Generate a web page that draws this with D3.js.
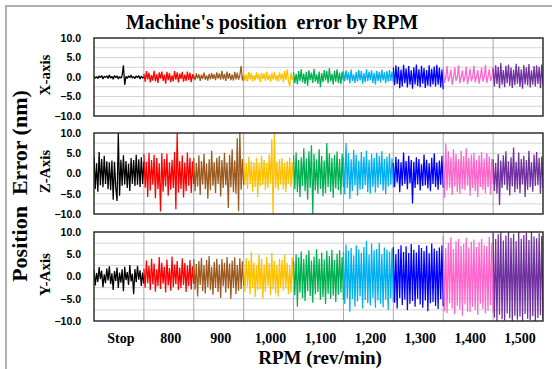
<!DOCTYPE html>
<html>
<head>
<meta charset="utf-8">
<script src="https://cdn.jsdelivr.net/npm/d3@7"></script>
<style>
  body { margin: 0; background: #fff; }
  svg { display: block; }
</style>
</head>
<body>
<svg id="chart" width="552" height="369"></svg>
<script>
// categories on the x axis (one block of samples per RPM step)
const categories = ["Stop", "800", "900", "1,000", "1,100", "1,200", "1,300", "1,400", "1,500"];
const segColors = ["#000000", "#ff0000", "#9c5a1e", "#ffc000", "#00b050", "#00b0f0", "#0000ff", "#ff66cc", "#7030a0"];
const yTicks = [-10, -5, 0, 5, 10];

// X-axis error (nm), one list per category
const xErr = [
  [0.2,-0.3,0.1,-0.4,0.3,-0.2,0.4,-0.5,0.2,-0.1,0.3,-0.4,0.5,-0.3,0.2,-0.6,0.4,-0.2,0.3,-0.5,0.1,-0.3,0.4,3.0,-2.0,0.2,-0.4,0.3,-0.2,0.5,-0.3,0.1,-0.4,0.3,-0.2,0.4,-0.5,0.2,-0.3,0.1],
  [0.8,-1.2,1.5,-0.6,1.1,-1.4,0.5,-0.9,1.6,-1.1,0.7,-1.5,1.2,-0.4,1.4,-1.0,0.6,-1.7,1.3,-0.8,1.0,-1.3,0.4,-1.1,1.5,-0.7,1.2,-1.4,0.9,-0.5,1.3,-1.2,0.6,-1.0,1.4,-0.8,1.1,-1.3,0.7,-0.5],
  [0.5,-0.8,0.9,-0.4,0.7,-1.0,0.6,-0.5,1.1,-0.7,0.4,-0.9,0.8,-0.6,1.0,-0.5,0.7,-0.8,1.2,-0.4,0.9,-0.7,1.6,-0.6,0.8,-1.0,1.4,-0.5,1.0,-0.8,0.6,-0.9,1.3,-0.6,1.1,-0.7,0.5,2.8,-0.9,0.4],
  [0.9,-1.0,0.6,-1.2,1.3,-0.7,1.0,-1.1,0.5,-0.9,1.2,-0.6,0.8,-1.3,1.1,-0.5,0.9,-1.0,1.4,-0.8,0.6,-1.2,1.0,-0.7,1.3,-0.9,0.5,-1.1,1.2,-0.6,0.9,-1.4,1.6,-0.8,2.0,-1.2,-2.4,1.1,-0.7,0.5],
  [1.2,-1.6,0.8,-1.9,1.5,-1.0,2.0,-1.4,0.9,-1.8,1.3,-2.2,1.7,-0.8,1.1,-1.5,2.1,-1.2,0.7,-1.7,1.4,-2.6,1.0,-1.3,1.8,-0.9,1.5,-1.6,2.3,-1.1,0.8,-1.9,1.6,-1.2,2.0,-1.5,1.1,-1.8,1.4,-0.9],
  [1.4,-1.1,1.7,-0.8,1.2,-1.6,1.9,-1.0,0.7,-1.5,1.3,-1.2,1.8,-0.9,1.5,-1.7,1.0,-1.3,2.0,-1.1,1.4,-0.8,1.7,-1.5,1.1,-1.9,1.6,-1.0,1.3,-1.4,1.9,-0.9,1.2,-1.6,1.5,-1.2,1.8,-1.0,1.4,-1.3],
  [2.4,-2.1,3.0,-1.8,2.6,-2.9,1.9,-2.4,3.1,-1.6,2.2,-2.7,2.8,-2.0,1.7,-3.0,2.5,-1.9,3.2,-2.3,2.0,-2.6,2.9,-1.7,2.3,-2.8,1.8,-2.2,3.0,-2.5,2.1,-1.9,2.7,-2.4,3.1,-2.0,2.4,-2.7,1.9,-3.1],
  [2.2,-1.5,0.0,2.8,-1.2,0.0,1.9,-2.0,0.0,2.5,-1.0,0.0,3.0,-1.6,0.0,1.7,-1.3,0.0,2.6,-1.8,0.0,2.1,-1.1,0.0,2.9,-1.4,0.0,1.8,-1.7,0.0,2.4,-1.2,0.0,3.1,-1.5,0.0,2.0,-1.0,0.0,2.7],
  [2.1,-2.4,3.0,-1.8,2.6,-2.9,3.6,-2.0,1.8,-2.6,2.9,-1.6,3.2,-2.3,2.4,-2.8,1.9,-2.1,3.4,-1.7,2.7,-2.5,2.0,-3.0,3.1,-1.9,2.5,-2.2,3.3,-2.7,1.7,-2.0,2.8,-2.4,3.0,-1.8,2.6,-2.9,3.2,-2.2]
];

// Z-axis error (nm)
const zErr = [
  [4.2,-3.8,2.5,-4.5,5.3,-2.9,3.6,-3.4,4.4,-2.6,3.0,-3.9,2.8,-4.1,3.2,-6.5,2.9,-3.5,-6.8,10.0,-5.5,3.4,-3.0,4.5,-2.7,3.1,-3.6,2.4,-4.3,3.8,-2.5,3.3,-3.1,4.6,-2.8,3.5,-3.3,4.0,-2.6,3.0],
  [4.8,-3.5,2.9,-5.8,5.1,-4.2,3.3,-2.8,4.6,-6.1,3.8,-3.9,2.5,-9.4,5.0,-4.5,3.6,-3.2,4.9,-5.5,2.8,-4.0,3.4,-3.6,5.3,-8.8,10.0,-4.7,3.1,-3.8,4.5,-5.9,2.7,-4.4,5.2,-3.0,3.9,-4.8,3.0,-2.6],
  [3.8,-4.4,2.6,-3.2,4.5,-5.3,3.1,-2.7,4.9,-3.9,2.4,-6.2,3.5,-4.1,5.6,-3.0,2.8,-4.8,3.9,-2.5,4.3,-5.7,3.3,-3.6,5.1,-2.9,2.7,-8.5,4.6,-3.4,6.0,-4.6,3.2,-5.0,8.7,-9.3,10.0,-4.0,3.6,-2.8],
  [3.6,-2.9,2.4,-3.8,4.1,-2.6,3.0,-4.5,2.7,-3.3,3.9,-5.8,2.5,-3.1,4.4,-2.8,3.3,-4.0,2.6,-3.6,4.7,-2.4,8.5,-10.0,10.0,-3.5,2.9,-4.2,3.5,-2.7,3.8,-3.9,2.6,-4.6,3.1,-2.5,4.0,-3.4,2.8,-3.0],
  [4.5,-3.9,5.2,-4.6,3.3,-5.8,4.0,-3.1,6.2,-4.4,3.7,-6.5,5.5,-3.6,7.0,-10.0,4.8,-4.2,3.5,-5.0,6.0,-3.8,4.3,-5.6,3.2,-4.9,7.5,-3.4,5.0,-4.5,3.8,-6.0,4.6,-3.7,5.4,-4.1,3.6,-5.2,4.9,-3.3],
  [4.0,-5.2,7.5,-3.6,5.0,-6.3,3.5,-4.4,5.8,-3.0,4.6,-5.5,3.2,-4.0,5.3,-3.8,4.2,-2.9,5.6,-4.6,3.4,-5.0,4.8,-3.3,3.9,-4.7,5.1,-3.5,4.4,-2.7,5.5,-4.2,3.6,-5.1,4.1,-3.2,4.9,-2.8,3.7,-3.5],
  [2.6,-3.4,4.1,-2.2,3.5,-4.6,2.8,-3.0,5.2,-2.5,3.1,-3.9,4.4,-2.4,3.3,-7.4,2.9,-3.6,4.0,-2.7,3.6,-4.2,2.3,-3.1,4.7,-2.9,3.4,-3.7,2.5,-4.4,3.9,-2.6,5.0,-3.3,2.7,-4.0,3.2,-2.8,4.3,-3.5],
  [4.6,-6.0,7.4,-4.2,5.5,-3.5,4.0,-5.3,6.0,-3.2,4.8,-4.6,3.5,-5.0,5.6,-3.8,4.3,-4.1,6.2,-3.0,3.9,-5.5,4.7,-3.6,5.1,-4.4,3.4,-5.8,4.5,-3.3,5.3,-4.0,3.7,-4.9,5.0,-3.4,4.2,-5.2,3.6,-2.5],
  [3.5,-4.3,2.6,-5.0,4.8,-7.8,3.2,-3.6,4.5,-2.8,5.5,-4.1,3.0,-5.4,4.0,-3.2,6.4,-4.6,2.9,-3.8,5.2,-4.9,3.6,-2.7,4.4,-5.8,3.3,-4.0,5.6,-3.4,2.8,-4.5,4.7,-3.1,5.3,-2.9,3.9,-5.0,4.2,-3.6]
];

// Y-axis error (nm)
const yErr = [
  [1.5,-2.0,0.8,-1.2,2.1,-0.6,1.3,-2.4,0.5,-1.5,1.8,-0.9,2.3,-1.7,0.7,-3.0,1.2,-1.0,2.0,-2.6,0.9,-1.4,1.6,-3.3,2.2,-0.8,1.0,-1.9,2.6,-1.1,0.6,-4.0,1.7,-1.3,2.4,-0.7,1.4,-2.1,0.9,-1.6],
  [1.8,-2.5,3.6,-1.5,2.4,-3.0,4.0,-1.8,2.9,-3.4,1.6,-2.2,4.4,-2.8,3.1,-1.6,2.2,-3.6,3.8,-2.0,1.9,-3.2,4.5,-2.4,2.7,-1.8,3.5,-3.0,2.0,-2.6,4.1,-1.9,3.0,-3.5,2.5,-2.1,3.7,-2.9,2.3,-1.7],
  [3.9,-2.9,2.8,-4.5,3.5,-1.9,4.2,-3.3,2.5,-3.8,3.7,-2.4,4.6,-3.0,2.2,-4.1,3.3,-2.6,4.0,-3.5,2.7,-4.8,3.9,-2.2,3.1,-3.6,4.4,-2.7,2.9,-5.0,3.6,-2.5,4.3,-3.9,2.6,-3.2,4.1,-2.8,3.4,-2.0],
  [2.8,-3.5,4.2,-2.3,3.6,-4.0,5.5,-2.6,3.2,-4.6,2.5,-3.1,4.8,-2.8,3.9,-5.0,2.7,-3.4,4.4,-2.2,3.0,-4.2,5.3,-2.9,3.5,-3.8,2.6,-4.5,4.0,-2.5,3.7,-3.2,4.9,-2.7,3.1,-4.0,2.4,-3.6,4.3,-2.1],
  [3.5,-4.2,5.0,-6.8,4.3,-3.6,5.6,-4.8,3.9,-5.5,4.8,-3.3,5.9,-4.4,3.6,-5.9,4.5,-4.0,6.1,-3.5,4.0,-5.2,5.4,-4.6,3.8,-6.2,5.8,-3.9,4.6,-5.0,6.0,-4.3,3.7,-5.7,5.1,-4.1,5.9,-3.6,4.4,-5.3],
  [5.5,-6.2,7.2,-4.9,5.8,-7.9,6.4,-5.1,4.7,-6.8,7.0,-5.6,6.1,-4.5,5.3,-7.2,6.6,-5.3,8.0,-6.0,4.9,-6.5,7.4,-4.8,5.9,-7.0,6.2,-5.4,7.6,-6.1,5.0,-6.9,6.5,-5.2,6.0,-7.5,5.6,-4.9,6.3,-5.8],
  [6.6,-5.9,5.0,-7.2,6.2,-4.8,7.0,-6.4,5.5,-5.2,6.8,-7.6,5.3,-6.1,7.3,-5.5,6.0,-6.8,5.4,-5.0,7.1,-6.3,6.4,-7.0,5.7,-5.4,6.9,-7.8,5.2,-6.0,7.4,-5.7,6.3,-6.6,5.8,-7.3,6.5,-5.1,7.0,-6.7],
  [9.0,-7.8,6.4,-8.2,7.6,-6.0,8.8,-7.2,6.2,-8.5,7.9,-6.6,8.4,-7.4,6.9,-8.8,7.3,-6.3,8.7,-7.9,6.5,-8.0,7.8,-6.8,8.3,-7.5,6.6,-8.6,7.7,-6.1,8.5,-7.3,7.0,-8.3,6.8,-7.7,8.9,-6.4,7.5,-8.1],
  [9.8,-9.2,8.4,-10.0,9.5,-8.6,10.0,-9.6,8.1,-9.9,9.2,-8.3,10.0,-9.4,8.7,-10.0,9.6,-8.8,7.9,-9.7,10.0,-9.0,8.5,-10.0,9.3,-8.4,9.9,-9.5,8.2,-9.8,10.0,-8.9,9.0,-10.0,8.6,-9.3,9.7,-8.7,9.1,-9.6]
];

const svg = d3.select("#chart");
const left = 94, right = 543;
const panels = [
  { name: "X-axis", data: xErr, top: 38, bottom: 116 },
  { name: "Z-Axis", data: zErr, top: 133, bottom: 214 },
  { name: "Y-Axis", data: yErr, top: 232, bottom: 321 }
];

// outer frame (only top & left edge visible in the source)
svg.append("rect")
  .attr("x", 6).attr("y", 6).attr("width", 560).attr("height", 380)
  .attr("fill", "none").attr("stroke", "#b0b0b0").attr("stroke-width", 2);

const x = d3.scaleLinear().domain([0, categories.length]).range([left, right]);
const xBand = d3.scaleBand().domain(categories).range([left, right]);
const serif = "'Liberation Serif', 'Times New Roman', serif";
const sans = "'Liberation Sans', Arial, sans-serif";

panels.forEach((p, pi) => {
  const y = d3.scaleLinear().domain([-10, 10]).range([p.bottom, p.top]);
  const g = svg.append("g");

  // horizontal grid every 2.5
  g.selectAll("line.hg")
    .data(d3.range(-7.5, 10, 2.5))
    .enter().append("line")
    .attr("x1", left).attr("x2", right)
    .attr("y1", d => y(d)).attr("y2", d => y(d))
    .attr("stroke", "#d4d4d4").attr("stroke-width", 1);

  // vertical separators between rpm blocks
  g.selectAll("line.vg")
    .data(d3.range(1, categories.length))
    .enter().append("line")
    .attr("x1", d => x(d)).attr("x2", d => x(d))
    .attr("y1", p.top).attr("y2", p.bottom)
    .attr("stroke", "#a8a8a8").attr("stroke-width", 1);

  const clipId = "clip" + pi;
  svg.append("clipPath").attr("id", clipId)
    .append("rect").attr("x", left).attr("y", p.top - 0.5)
    .attr("width", right - left).attr("height", p.bottom - p.top + 1);

  const line = d3.line().x(d => x(d[0])).y(d => y(d[1]));
  const lines = g.append("g").attr("clip-path", `url(#${clipId})`);
  p.data.forEach((vals, si) => {
    const n = vals.length;
    const pts = vals.map((v, j) => [si + j / (n - 1), v]);
    lines.append("path")
      .attr("d", line(pts))
      .attr("fill", "none")
      .attr("stroke", segColors[si])
      .attr("stroke-width", 1.25)
      .attr("stroke-linejoin", "bevel");
  });

  // plot frame
  g.append("rect")
    .attr("x", left).attr("y", p.top)
    .attr("width", right - left).attr("height", p.bottom - p.top)
    .attr("fill", "none").attr("stroke", "#222").attr("stroke-width", 1.4);

  // y ticks
  const ya = g.append("g")
    .attr("transform", `translate(${left - 10},0)`)
    .call(d3.axisLeft(y).tickValues(yTicks).tickFormat(d3.format(".1f")).tickSize(0));
  ya.select(".domain").remove();
  ya.selectAll("text")
    .attr("font-family", sans).attr("font-weight", "bold")
    .attr("font-size", 10.5).attr("fill", "#000");

  // panel label
  svg.append("text")
    .attr("transform", `translate(50,${(p.top + p.bottom) / 2 - 2}) rotate(-90)`)
    .attr("text-anchor", "middle")
    .attr("font-family", serif).attr("font-weight", "bold")
    .attr("font-size", 15)
    .text(p.name);
});

// category labels below the last panel
const xa = svg.append("g")
  .attr("transform", `translate(2,${panels[2].bottom + 6})`)
  .call(d3.axisBottom(xBand).tickSize(0));
xa.select(".domain").remove();
xa.selectAll("text")
  .attr("font-family", serif).attr("font-weight", "bold")
  .attr("font-size", 14).attr("fill", "#000").attr("dy", "0.9em");

svg.append("text")
  .attr("x", 272).attr("y", 29)
  .attr("text-anchor", "middle")
  .attr("font-family", serif).attr("font-weight", "bold")
  .attr("font-size", 20)
  .style("white-space", "pre")
  .text("Machine's position  error by RPM");

svg.append("text")
  .attr("x", 320).attr("y", 364)
  .attr("text-anchor", "middle")
  .attr("font-family", serif).attr("font-weight", "bold")
  .attr("font-size", 19)
  .text("RPM (rev/min)");

svg.append("text")
  .attr("transform", "translate(27,186) rotate(-90)")
  .attr("text-anchor", "middle")
  .attr("font-family", serif).attr("font-weight", "bold")
  .attr("font-size", 22)
  .style("white-space", "pre")
  .text("Position  Error (nm)");
</script>
</body>
</html>
